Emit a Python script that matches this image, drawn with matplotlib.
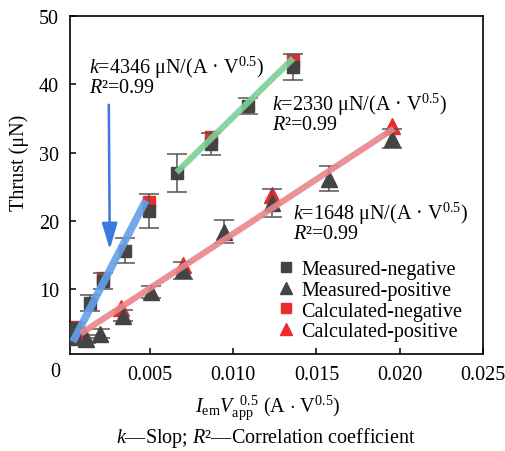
import numpy as np
import matplotlib
matplotlib.use("Agg")
import matplotlib.pyplot as plt
from matplotlib.lines import Line2D

plt.rcParams['font.family'] = ['Liberation Serif', 'DejaVu Serif']
plt.rcParams['mathtext.fontset'] = 'custom'
plt.rcParams['mathtext.rm'] = 'Liberation Serif'
plt.rcParams['mathtext.it'] = 'Liberation Serif:italic'

# measured, negative polarity (squares)
neg_x = [0.00043, 0.00049, 0.00138, 0.00221, 0.00352, 0.00494, 0.0066, 0.00868, 0.01087, 0.0136]
neg_y = [2.75, 4.3, 7.97, 11.2, 15.65, 21.4, 27.0, 31.3, 36.8, 42.6]
neg_err = [0.6, 0.8, 1.2, 1.2, 1.8, 2.5, 2.8, 1.6, 1.2, 1.9]
# calculated, negative polarity
neg_cx = [0.00049, 0.00219, 0.00494, 0.00868, 0.0136]
neg_cy = [4.5, 11.6, 22.75, 32.3, 43.6]

# measured, positive polarity (triangles)
pos_x = [0.00115, 0.0020, 0.0034, 0.00506, 0.0070, 0.00945, 0.0123, 0.01573, 0.01953]
pos_y = [2.75, 3.5, 6.1, 9.6, 12.75, 18.4, 22.6, 26.2, 32.0]
pos_err = [0.6, 0.6, 0.8, 0.9, 1.2, 1.7, 2.0, 1.9, 1.4]
# calculated, positive polarity
pos_cx = [0.00103, 0.00326, 0.00696, 0.0123, 0.01953]
pos_cy = [3.5, 7.25, 13.6, 23.8, 33.9]

# fitted lines (end points)
fit_blue_x = [0.00037, 0.00476]
fit_blue_y = [2.3, 23.0]
fit_green_x = [0.0066, 0.0136]
fit_green_y = [27.1, 43.8]
fit_red_x = [0.00085, 0.01964]
fit_red_y = [3.5, 33.5]

gray = '#444444'
red = '#ec2b2b'
fs = 14.5

fig = plt.figure(figsize=(5.05, 4.52), dpi=100)
ax = fig.add_axes([70/505, 1-355/452, 413/505, 338/452])

ax.plot(fit_blue_x, fit_blue_y, color='#64a0e8', lw=5.5, alpha=0.9, solid_capstyle='butt', zorder=4)
ax.plot(fit_green_x, fit_green_y, color='#7fd095', lw=4.5, alpha=0.9, solid_capstyle='butt', zorder=4)
ax.plot(fit_red_x, fit_red_y, color='#e8868a', lw=4.5, alpha=0.9, solid_capstyle='butt', zorder=4)

ax.plot(neg_cx, neg_cy, 's', color=red, ms=9, ls='none', zorder=2)
ax.plot(pos_cx, pos_cy, '^', color=red, ms=11, ls='none', zorder=2)
ax.errorbar(neg_x, neg_y, yerr=neg_err, fmt='s', color=gray, ms=9, ecolor='#555555',
            elinewidth=1.1, capsize=7.5, capthick=1.1, zorder=3)
ax.errorbar(pos_x, pos_y, yerr=pos_err, fmt='^', color=gray, ms=11, ecolor='#555555',
            elinewidth=1.1, capsize=7.5, capthick=1.1, zorder=3)

# arrow
ax.annotate('', xy=(0.00259, 15.8), xytext=(0.00253, 37.0),
            arrowprops=dict(arrowstyle='-|>,head_width=0.47,head_length=1.6',
                            mutation_scale=10, color='#3b78e0', lw=1.8, shrinkA=0, shrinkB=0),
            zorder=5)

ax.text(0.00132, 42.6, '$k$=4346 \u03bcN/(A \u00b7 V$^{0.5}$)', fontsize=fs, va='center', zorder=6)
ax.text(0.00132, 39.6, '$R$\u00b2=0.99', fontsize=fs, va='center', zorder=6)
ax.text(0.0123, 37.1, '$k$=2330 \u03bcN/(A \u00b7 V$^{0.5}$)', fontsize=fs, va='center', zorder=6)
ax.text(0.0123, 34.1, '$R$\u00b2=0.99', fontsize=fs, va='center', zorder=6)
ax.text(0.0136, 21.2, '$k$=1648 \u03bcN/(A \u00b7 V$^{0.5}$)', fontsize=fs, va='center', zorder=6)
ax.text(0.0136, 18.2, '$R$\u00b2=0.99', fontsize=fs, va='center', zorder=6)

ax.set_xlim(0.0002, 0.025)
ax.set_ylim(0.5, 50)
ax.set_xticks([0.005, 0.010, 0.015, 0.020, 0.025])
ax.set_xticklabels(['0.005', '0.010', '0.015', '0.020', '0.025'])
ax.set_yticks([10, 20, 30, 40, 50])
ax.tick_params(direction='in', length=4, width=1.1, labelsize=fs)
ax.tick_params(axis='x', pad=8)
ax.tick_params(axis='y', pad=8)
for s in ax.spines.values():
    s.set_linewidth(1.2)
fig.text(55/505, 1-373/452, '0', fontsize=fs, ha='center', va='center')

handles = [
    Line2D([], [], marker='s', color=gray, ls='none', ms=7),
    Line2D([], [], marker='^', color=gray, ls='none', ms=9),
    Line2D([], [], marker='s', color=red, ls='none', ms=7),
    Line2D([], [], marker='^', color=red, ls='none', ms=9),
]
labels = ['Measured-negative', 'Measured-positive', 'Calculated-negative', 'Calculated-positive']
ax.legend(handles, labels, loc='upper left', bbox_to_anchor=(280/505, 1-261/452),
          bbox_transform=fig.transFigure, frameon=False, fontsize=fs,
          handlelength=0.6, handletextpad=0.45, labelspacing=0.08, borderpad=0, borderaxespad=0)

fig.text(19/505, 1-163/452, 'Thrust (\u03bcN)', fontsize=fs, rotation=90, ha='center', va='center')
fig.text(268/505, 1-408/452, r'$I_{\mathrm{em}}V_{\mathrm{app}}^{\ \ 0.5}$ (A $\cdot$ V$^{0.5}$)',
         fontsize=fs, ha='center', va='center')
fig.text(266/505, 1-438/452, '$k$\u2014Slop; $R$\u00b2\u2014Correlation coefficient',
         fontsize=fs, ha='center', va='center')

fig.savefig('out.png', dpi=100)
